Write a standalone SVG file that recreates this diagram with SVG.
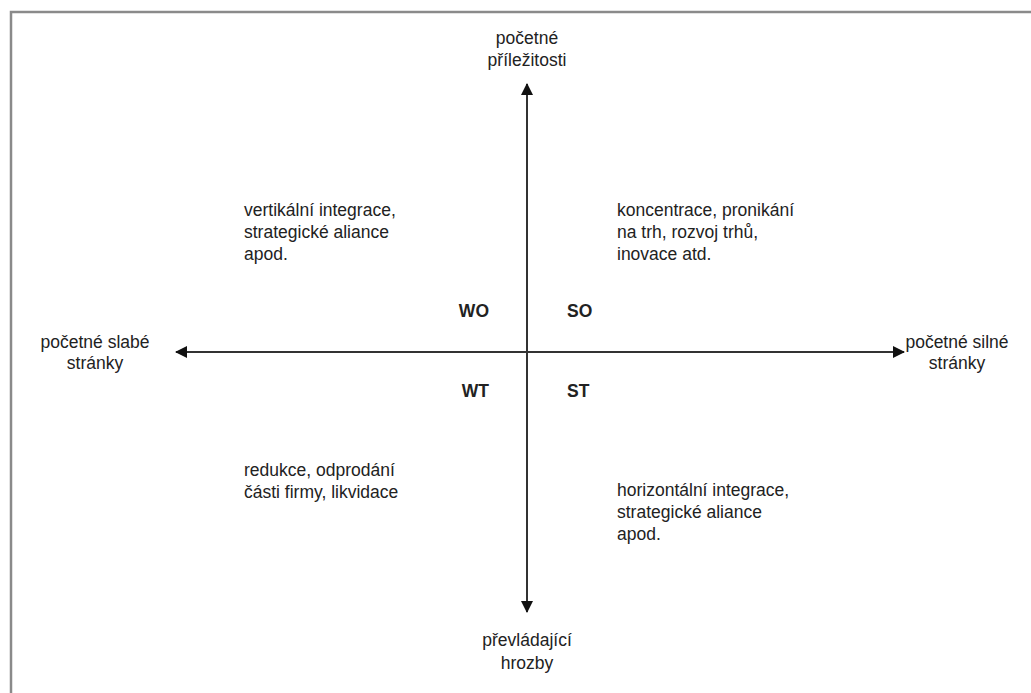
<svg xmlns="http://www.w3.org/2000/svg" width="1031" height="693" viewBox="0 0 1031 693">
<style>
text{font-family:"Liberation Sans",Arial,sans-serif;font-size:17.5px;fill:#222}
.c{text-anchor:middle}
.b{font-weight:bold}
.ax{stroke:#333;stroke-width:2;fill:none}
</style>
<defs>
<marker id="ah" viewBox="0 0 10 10" refX="9" refY="5" markerWidth="7" markerHeight="7" markerUnits="userSpaceOnUse" orient="auto">
<path d="M0,0 L10,5 L0,10 z" fill="#111"/>
</marker>
<marker id="a" viewBox="0 0 12 12" refX="11" refY="6" markerWidth="12" markerHeight="12" markerUnits="userSpaceOnUse" orient="auto">
<path d="M0,0 L12,6 L0,12 z" fill="#111"/>
</marker>
</defs>
<rect width="1031" height="693" fill="#fff"/>
<path d="M11,700 V12 H1040" stroke="#8a8a8a" stroke-width="2.5" fill="none"/>
<g id="connectors">
<line class="ax" x1="527" y1="352" x2="527" y2="84" marker-end="url(#a)"/>
<line class="ax" x1="527" y1="352" x2="527" y2="612" marker-end="url(#a)"/>
<line class="ax" x1="527" y1="352" x2="176" y2="352" marker-end="url(#a)"/>
<line class="ax" x1="527" y1="352" x2="904" y2="352" marker-end="url(#a)"/>
</g>
<g id="top"><text class="c" x="527" y="44">početné</text><text class="c" x="527" y="66">příležitosti</text></g>
<g id="bottom"><text class="c" x="527" y="646">převládající</text><text class="c" x="527" y="669">hrozby</text></g>
<g id="left"><text class="c" x="95" y="348">početné slabé</text><text class="c" x="95" y="369">stránky</text></g>
<g id="right"><text class="c" x="957" y="348">početné silné</text><text class="c" x="957" y="369">stránky</text></g>
<g id="wo"><text class="b" x="489" y="317" text-anchor="end">WO</text></g>
<g id="so"><text class="b" x="567" y="317">SO</text></g>
<g id="wt"><text class="b" x="489" y="397" text-anchor="end">WT</text></g>
<g id="st"><text class="b" x="567" y="397">ST</text></g>
<g id="wo-text"><text x="244" y="216">vertikální integrace,</text><text x="244" y="238">strategické aliance</text><text x="244" y="260">apod.</text></g>
<g id="so-text"><text x="617" y="216">koncentrace, pronikání</text><text x="617" y="238">na trh, rozvoj trhů,</text><text x="617" y="260">inovace atd.</text></g>
<g id="wt-text"><text x="244" y="476">redukce, odprodání</text><text x="244" y="498">části firmy, likvidace</text></g>
<g id="st-text"><text x="617" y="496">horizontální integrace,</text><text x="617" y="518">strategické aliance</text><text x="617" y="540">apod.</text></g>
</svg>
